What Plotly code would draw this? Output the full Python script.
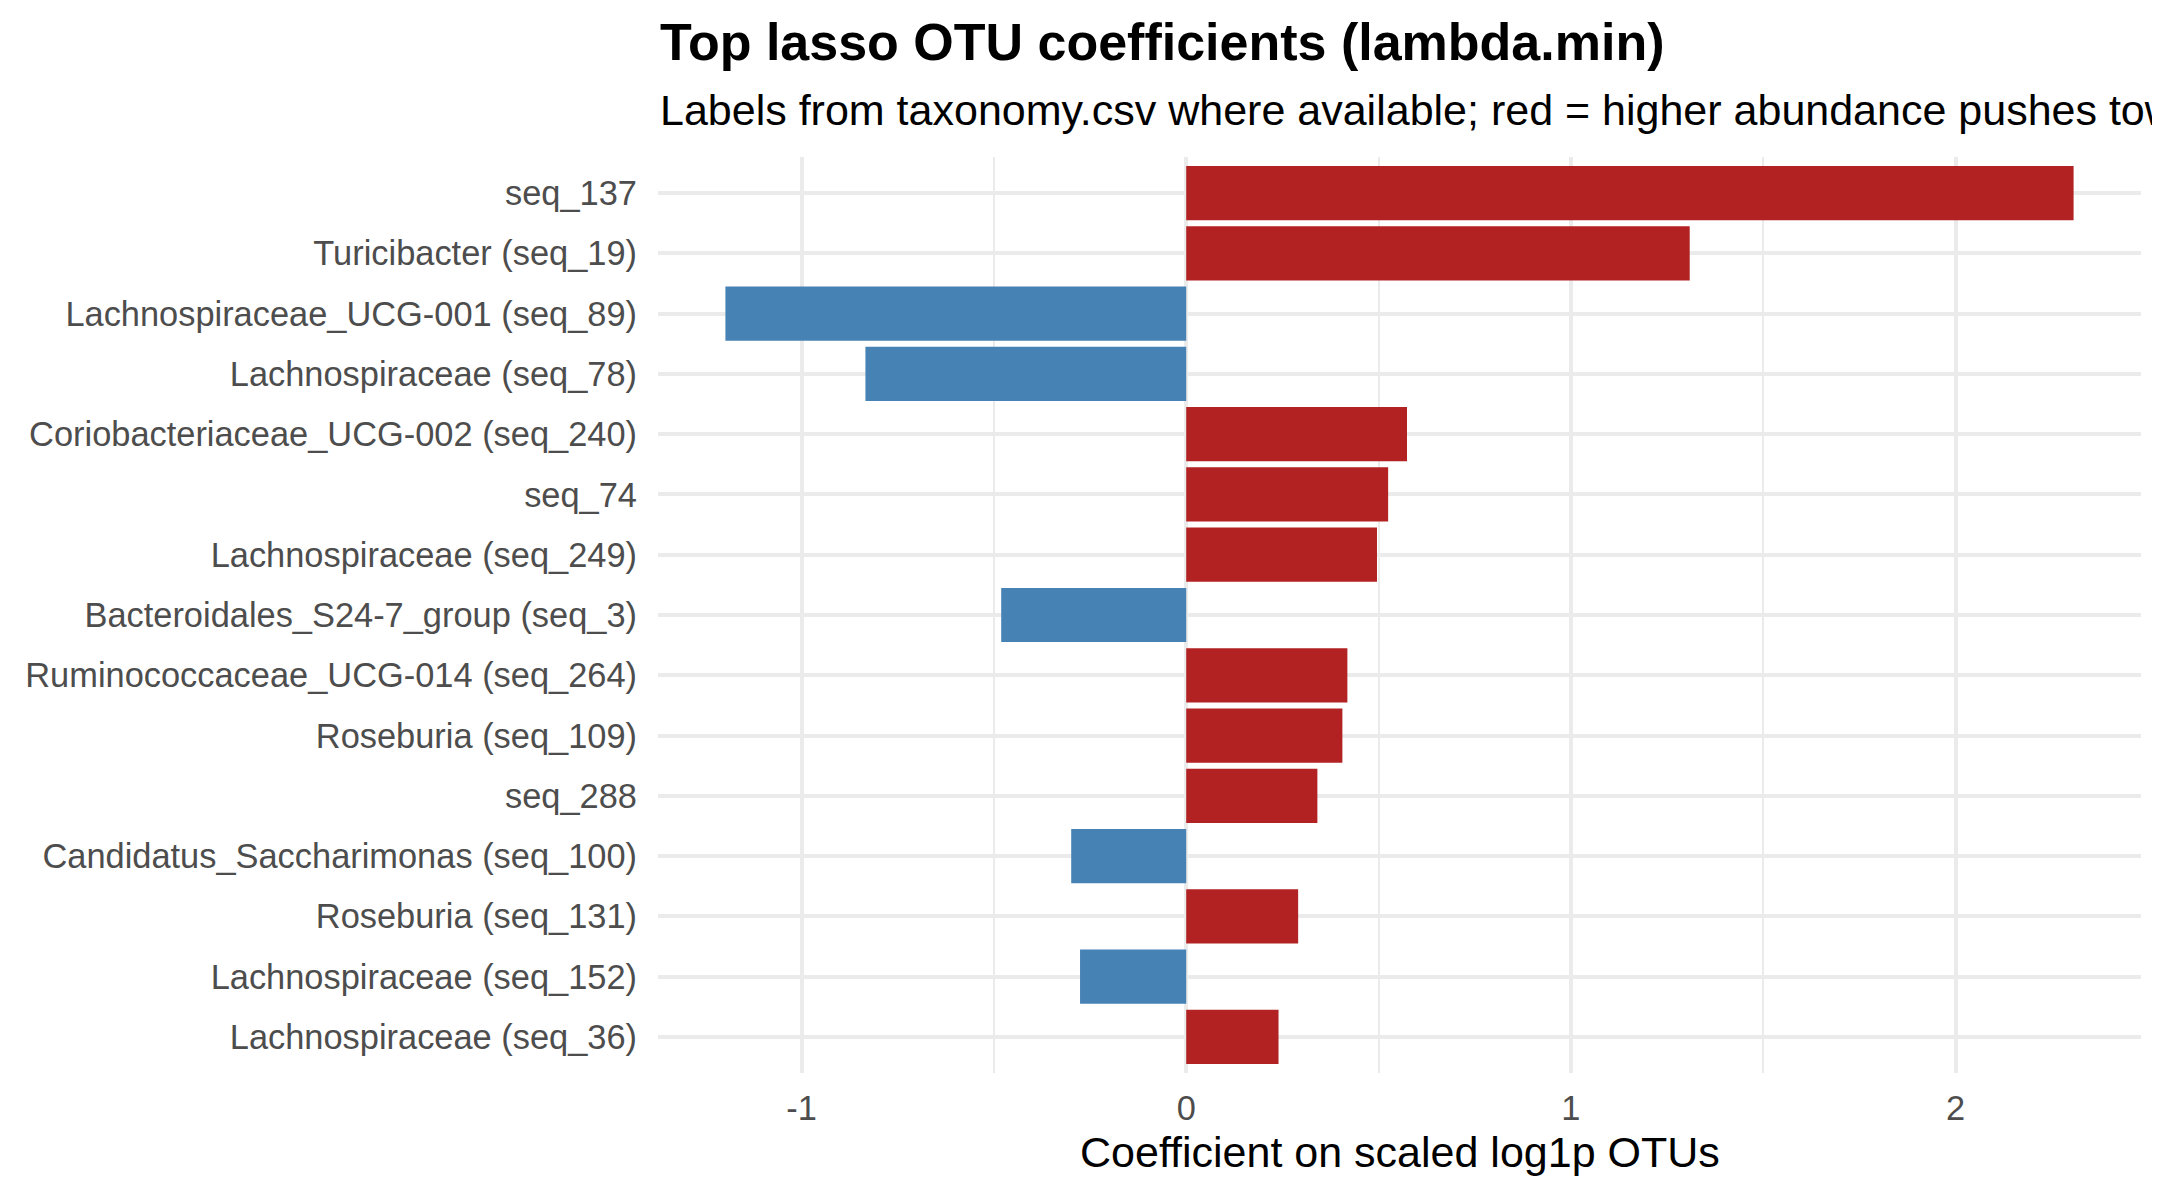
import plotly.graph_objects as go

# data (top to bottom)
otu_labels = [
    "seq_137",
    "Turicibacter (seq_19)",
    "Lachnospiraceae_UCG-001 (seq_89)",
    "Lachnospiraceae (seq_78)",
    "Coriobacteriaceae_UCG-002 (seq_240)",
    "seq_74",
    "Lachnospiraceae (seq_249)",
    "Bacteroidales_S24-7_group (seq_3)",
    "Ruminococcaceae_UCG-014 (seq_264)",
    "Roseburia (seq_109)",
    "seq_288",
    "Candidatus_Saccharimonas (seq_100)",
    "Roseburia (seq_131)",
    "Lachnospiraceae (seq_152)",
    "Lachnospiraceae (seq_36)",
]
coefficients = [
    2.307, 1.309, -1.198, -0.834, 0.574, 0.525, 0.496, -0.481,
    0.419, 0.406, 0.341, -0.299, 0.291, -0.276, 0.240,
]
x_ticks = [-1, 0, 1, 2]
x_tick_labels = ["-1", "0", "1", "2"]

title_text = "<b>Top lasso OTU coefficients (lambda.min)</b>"
subtitle_text = "Labels from taxonomy.csv where available; red = higher abundance pushes toward"
x_title = "Coefficient on scaled log1p OTUs"

RED = "#B22222"
BLUE = "#4682B4"
GRID = "#EBEBEB"
FONT = "Liberation Sans"

# the page body has an 8px margin, so everything is shifted up/left by 8px
W, H = 2160, 1200
OFF = 8
ml, mr, mt, mb = 658 - OFF, 19 + OFF, 157 - OFF, 127 + OFF
plot_h = H - mt - mb

bar_colors = [RED if c > 0 else BLUE for c in coefficients]

# ggplot style 5% expansion on the continuous axis
lo, hi = min(coefficients), max(coefficients)
pad = 0.05 * (hi - lo)

fig = go.Figure()
fig.add_trace(
    go.Bar(
        x=coefficients,
        y=otu_labels,
        orientation="h",
        width=0.9,
        marker=dict(color=bar_colors, line=dict(width=0)),
        hoverinfo="x+y",
    )
)


def py(pix):
    # pixel row in the reference -> paper y
    return (H - mb - (pix - OFF)) / plot_h


fig.add_annotation(
    text=title_text, x=0, y=py(42), xref="paper", yref="paper",
    xanchor="left", yanchor="middle", showarrow=False,
    font=dict(family=FONT, size=52, color="black"),
)
fig.add_annotation(
    text=subtitle_text, x=0, y=py(110), xref="paper", yref="paper",
    xanchor="left", yanchor="middle", showarrow=False,
    font=dict(family=FONT, size=43, color="black"),
)
fig.add_annotation(
    text=x_title, x=0.5, y=py(1152), xref="paper", yref="paper",
    xanchor="center", yanchor="middle", showarrow=False,
    font=dict(family=FONT, size=43, color="black"),
)

fig.update_layout(
    template="simple_white",
    width=W,
    height=H,
    margin=dict(l=ml, r=mr, t=mt, b=mb, pad=0),
    paper_bgcolor="white",
    plot_bgcolor="white",
    showlegend=False,
    bargap=0.1,
    font=dict(family=FONT, size=34, color="#4D4D4D"),
)

fig.update_xaxes(
    range=[lo - pad, hi + pad],
    tickvals=x_ticks,
    ticktext=x_tick_labels,
    showgrid=True,
    gridcolor=GRID,
    gridwidth=4,
    minor=dict(dtick=0.5, tick0=0, showgrid=True, gridcolor=GRID, gridwidth=2, ticks=""),
    zeroline=False,
    showline=False,
    ticks="",
    ticklabelstandoff=12,
    tickfont=dict(family=FONT, size=34.4, color="#4D4D4D"),
)

fig.update_yaxes(
    categoryorder="array",
    categoryarray=otu_labels,
    range=[len(otu_labels) - 0.4, -0.6],
    showgrid=True,
    gridcolor=GRID,
    gridwidth=4,
    zeroline=False,
    showline=False,
    ticks="",
    ticklabelstandoff=20,
    tickfont=dict(family=FONT, size=34.4, color="#4D4D4D"),
)

fig.write_html("out.html")
